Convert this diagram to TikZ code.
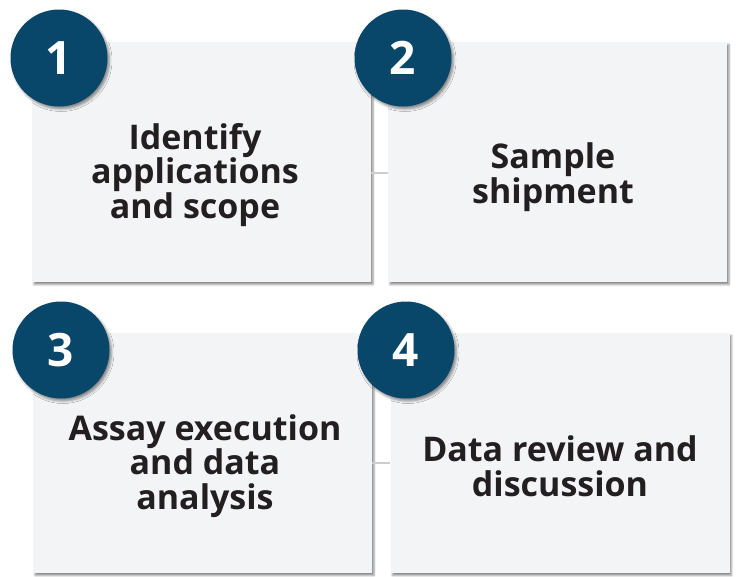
\documentclass[tikz,border=0pt]{standalone}
\usepackage{fontspec}
\setmainfont{Open Sans}
\usepackage{xcolor}
\usepackage{tikz}
\usetikzlibrary{calc}
\usetikzlibrary{positioning}
\usetikzlibrary{shadows.blur}

\definecolor{stepblue}{RGB}{8,70,106}
\definecolor{boxgray}{RGB}{243,244,246}
\definecolor{textdark}{RGB}{35,31,32}
\definecolor{linkgray}{RGB}{205,205,205}

\begin{document}
\begin{tikzpicture}[x=1pt, y=-1pt,
    stepbox/.style={rectangle, fill=boxgray, inner sep=0pt,
      minimum width=339pt, minimum height=240pt,
      blur shadow={shadow xshift=2pt, shadow yshift=-2.5pt,
        shadow blur radius=2pt, shadow opacity=45}},
    steptext/.style={align=center, text=textdark,
      font=\fontsize{34}{34.5}\selectfont\bfseries},
    stepnum/.style={circle, fill=stepblue, inner sep=0pt,
      minimum size=97pt, text=white,
      font=\fontsize{46}{46}\selectfont\bfseries,
      blur shadow={shadow xshift=2pt, shadow yshift=-2.5pt,
        shadow blur radius=2.5pt, shadow opacity=45}},
    link/.style={draw=linkgray, line width=1.8pt}]

    \useasboundingbox (0, 0) rectangle (739, 576);

    % boxes first, the circles overlap them
    \foreach \n/\x/\y in {1/201.5/162, 2/557.5/162,
      3/202.5/453, 4/560/453} {
      \node [stepbox] (b\n) at (\x, \y) {};
    }

    \draw [link] ([yshift=-11pt]b1.east) -- ([yshift=-11pt]b2.west);
    \draw [link] ([yshift=-10pt]b3.east) -- ([yshift=-10pt]b4.west);

    \node [steptext] (t1) at (195, 175) {Identify\\applications\\and scope};
    \node [steptext] (t2) at (553, 177) {Sample\\shipment};
    \node [steptext] (t3) at (205, 466) {Assay execution\\and data\\analysis};
    \node [steptext] (t4) at (560, 466) {Data review and\\discussion};

    \foreach \n/\x/\y in {1/59/58, 2/403/58, 3/61/350, 4/406/350} {
      \node [stepnum] (n\n) at (\x, \y) {\n};
    }

  \end{tikzpicture}
\end{document}
